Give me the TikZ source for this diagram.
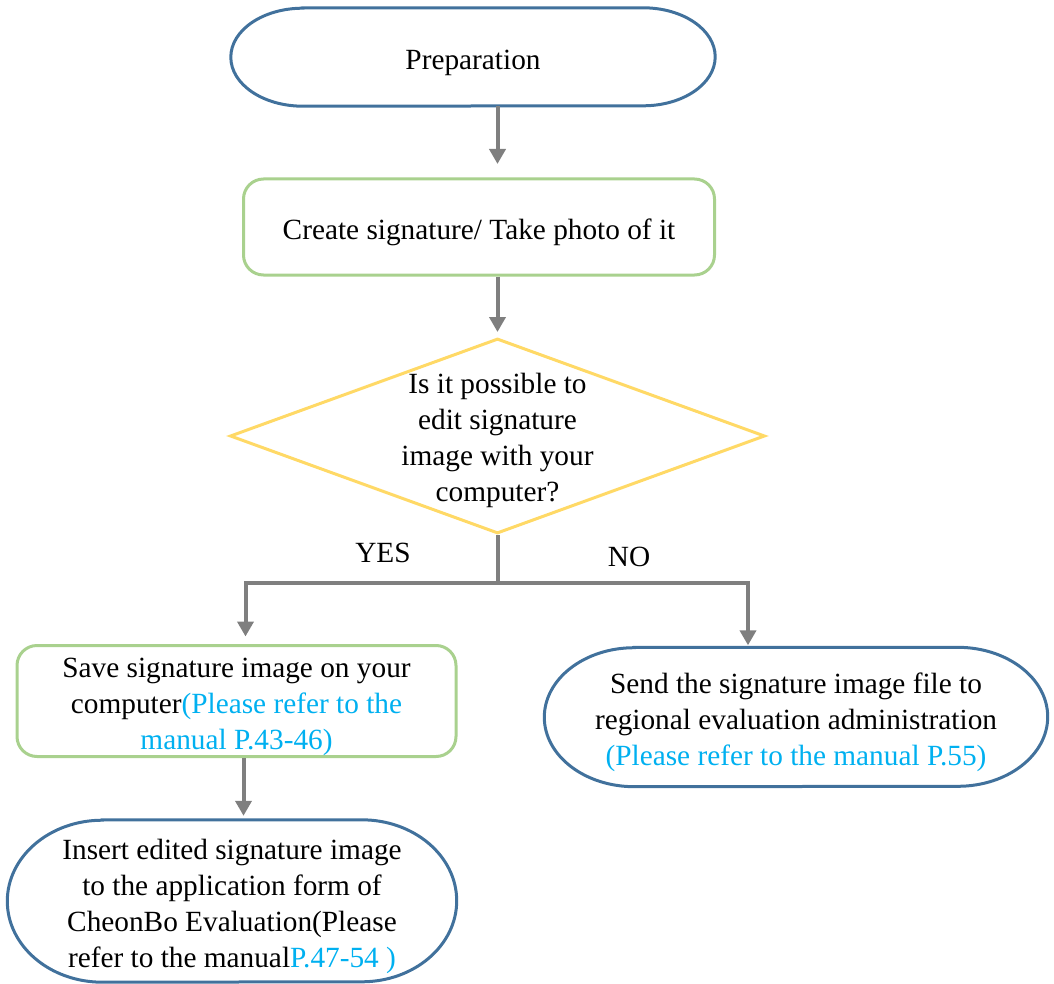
\documentclass[tikz,border=0pt]{standalone}
\usepackage{xcolor}
\usepackage{fontspec}
\setmainfont{Liberation Serif}
\usepackage{tikz}
\usetikzlibrary{arrows.meta, positioning, shapes.geometric}

\definecolor{termblue}{HTML}{41719C}
\definecolor{stepgreen}{HTML}{A9D18E}
\definecolor{askyellow}{HTML}{FFD966}
\definecolor{flowgray}{HTML}{7F7F7F}
\definecolor{refcyan}{HTML}{00B0F0}

% taller first line, so the text sits a little lower in its shape
\newcommand{\lift}{\rule{0pt}{32pt}}
% outline of a terminal: straight top and bottom, elliptical ends
\newcommand{\termline}[3]{%
  \draw[termdraw] ([xshift=#2]#1.north west) -- ([xshift=-#2]#1.north east)
    arc[start angle=90, end angle=-90, x radius=#2, y radius=#3]
    -- ([xshift=#2]#1.south west)
    arc[start angle=270, end angle=90, x radius=#2, y radius=#3] -- cycle;}

\begin{document}
\begin{tikzpicture}[
    x=1pt, y=-1pt,
    font=\fontsize{29.3}{36}\selectfont,
    term/.style={inner sep=0pt, align=center},
    termdraw/.style={draw=termblue, line width=3pt},
    box/.style={draw=stepgreen, line width=3pt, rounded corners=20pt, inner sep=0pt, align=center},
    ask/.style={draw=askyellow, line width=3pt, diamond, inner sep=0pt},
    link/.style={draw=flowgray, line width=4pt},
    arrow/.style={link, -{Triangle[length=15pt, width=16pt]}},
    answer/.style={inner sep=0pt}
]
\useasboundingbox (0,0) rectangle (1054,984);

% top of the chart
\node[term, minimum width=484pt, minimum height=98pt] (prep) at (473,57) {\lift Preparation};
\termline{prep}{72pt}{49pt}
\node[box, minimum width=471pt, minimum height=96pt] (create) at (479,227) {\lift Create signature/ Take photo of it};
\node[ask, minimum width=535pt, minimum height=195pt,
      label={[align=center, yshift=-4pt]center:Is it possible to\\edit signature\\image with your\\computer?}] (dec) at (497.5,436) {};
\draw[arrow, shorten >=13.5pt] (prep.south -| dec.north) -- (create.north -| dec.north);
\draw[arrow, shorten >=5pt] (create.south -| dec.north) -- (dec.north);

% branches
\coordinate (fork) at (497.5,583);
\node[answer] (yes) at (383,553) {YES};
\node[answer] (no) at (629,557) {NO};
\node[box, minimum width=439pt, minimum height=111pt] (save) at (236.5,701)
  {\lift Save signature image on your\\computer\textcolor{refcyan}{(Please refer to the}\\\textcolor{refcyan}{manual P.43-46)}};
\node[term, minimum width=503pt, minimum height=139pt] (send) at (796,717)
  {\lift Send the signature image file to\\regional evaluation administration\\\textcolor{refcyan}{(Please refer to the manual P.55)}};
\termline{send}{90pt}{69.5pt}
\node[term, minimum width=449pt, minimum height=162pt] (insert) at (232,901)
  {\lift Insert edited signature image\\to the application form of\\CheonBo Evaluation(Please\\refer to the manual\textcolor{refcyan}{P.47-54 )}};
\termline{insert}{95pt}{81pt}

\draw[link] (dec.south) -- (fork);
\draw[arrow, shorten >=7.5pt] (fork) -| ([xshift=9pt]save.north);
\draw[arrow, shorten >=2pt] (fork) -| ([xshift=-48pt]send.north);
\draw[arrow, shorten >=4pt] ([xshift=7pt]save.south) -- ([xshift=7pt]save.south |- insert.north);

\end{tikzpicture}
\end{document}
